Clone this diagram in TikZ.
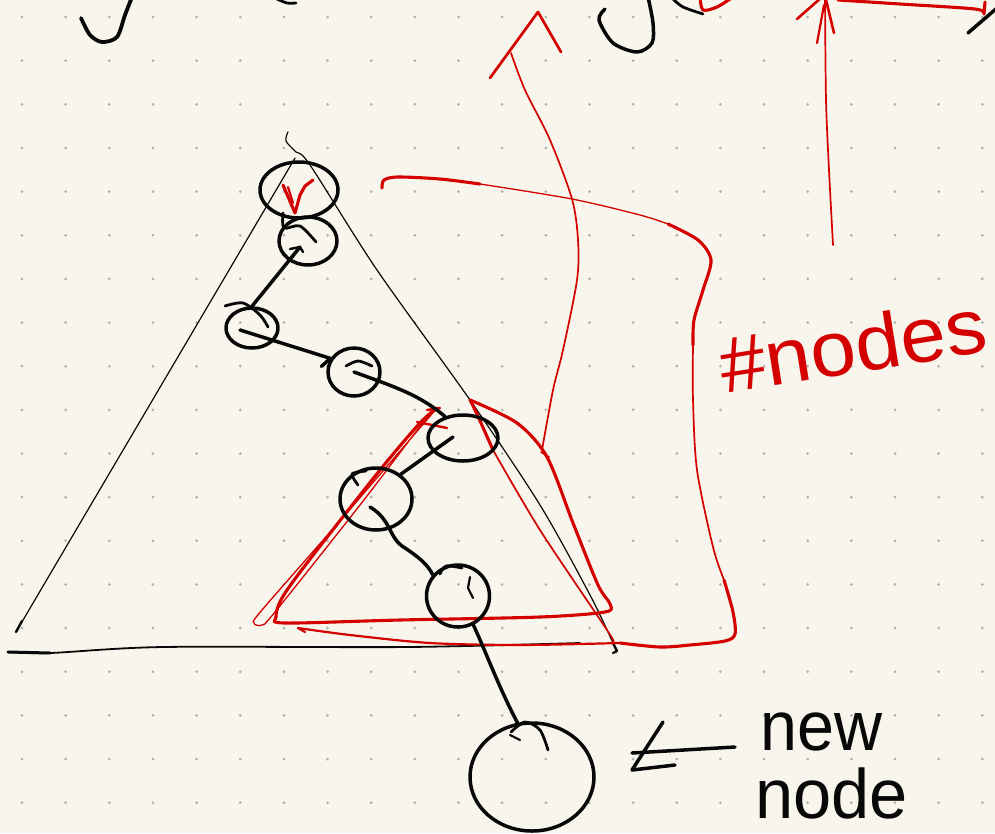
\documentclass[tikz,border=0pt]{standalone}
\usepackage{fontspec}
\setmainfont{Liberation Sans}
\usetikzlibrary{shapes.geometric}
\definecolor{paper}{RGB}{248,246,236}
\definecolor{dotc}{RGB}{176,176,168}
\definecolor{ink}{RGB}{8,8,8}
\definecolor{pen}{RGB}{212,0,0}
\begin{document}
\begin{tikzpicture}[x=1pt,y=-1pt,line cap=round,line join=round,
  blk/.style={draw=ink,line width=3.5pt},
  hair/.style={draw=ink,line width=1.2pt},
  tnode/.style={ellipse,draw=ink,line width=3.5pt,inner sep=0pt},
  rd/.style={draw=pen,line width=3.1pt},
  rdfine/.style={draw=pen,line width=1.3pt},
  hand/.style={inner sep=0pt,anchor=base west}]
\useasboundingbox (0,0) rectangle (995,833);
\fill[paper] (0,0) rectangle (995,833);
\clip (0,0) rectangle (995,833);
% dot grid
\foreach \i in {0,...,22}{\foreach \j in {0,...,18}{\fill[dotc] ({22+43.65*\i},{17+43.65*\j}) circle (1.5);}}
% cut-off strokes at the top
\draw[blk,line width=3.8pt] plot[smooth] coordinates {(81,18) (90,35) (102,42) (117,37) (125,15) (132,-3)};
\draw[blk,line width=2.8pt] plot[smooth] coordinates {(277,-1) (287,3) (296,3)};
\draw[blk] plot[smooth] coordinates {(605,9) (599,20) (613,43) (637,52) (652,43) (653,23) (648,-3)};
\draw[blk,line width=2.8pt] plot[smooth] coordinates {(673,-1) (683,7) (703,14)};
\draw[rd] plot[smooth] coordinates {(700,-3) (703,10) (717,7) (733,-3)};
\draw[rd] plot[smooth] coordinates {(838,0) (900,4) (975,9) (984,14)} -- (985,2);
\draw[blk] (968,33) -- (997,8);
% red arrow on the right
\draw[rdfine,line width=1.7pt] plot[smooth] coordinates {(833,245) (829,170) (826,100) (825,-2)};
\draw[rd,line width=2.6pt] (797,19) -- (822,-3);
\draw[rd,line width=2.6pt] (834,33) -- (826,0);
\draw[rd,line width=2.2pt] (817,43) -- (824,5);
% big black triangle
\draw[hair] (295,158) -- (16,632);
\draw[blk,line width=2.4pt] (22,621) -- (16,632);
\draw[hair] plot[smooth] coordinates {(288,132) (286,141) (296,152) (310,165) (377,270) (470,400) (540,505) (590,595) (613,643) (616,651)};
\draw[blk,line width=2.4pt] (613,643) -- (617,651) -- (613,653);
\draw[blk,line width=1.8pt] plot[smooth] coordinates {(8,652) (50,653) (163,647) (408,647) (580,643)};
\draw[blk,line width=3pt] (8,652) -- (50,653);
% red brace around the subtree
\draw[rd] plot[smooth] coordinates {(382,188) (384,180) (398,177) (440,179) (480,184)};
\draw[rdfine] plot[smooth] coordinates {(480,184) (572,199) (640,215) (668,224)};
\draw[rd] plot[smooth] coordinates {(668,224) (698,240) (711,260) (703,290) (694,320) (693,345)};
\draw[rdfine,line width=1.7pt] plot[smooth] coordinates {(693,345) (693,400) (697,470) (713,547) (724,580)};
\draw[rd] plot[smooth] coordinates {(724,580) (733,612) (735,634) (725,641) (690,645) (660,647) (620,643)};
\draw[rd,line width=2.2pt] plot[smooth] coordinates {(620,643) (520,645) (430,643) (350,635) (298,628)};
\draw[rd,line width=2.2pt] (298,628) -- (305,632);
% red subtree triangle
\draw[rd] plot[smooth] coordinates {(470,400) (517,423) (547,457) (573,523) (598,585) (610,604) (605,612) (540,617) (400,620) (285,623) (276,617) (282,598) (307,563) (380,470) (420,423) (437,408)};
\draw[rd] plot[smooth] coordinates {(470,400) (476,412) (493,450)};
\draw[rdfine,line width=1.7pt] plot[smooth] coordinates {(493,450) (540,530) (607,630) (613,641)};
\draw[rdfine] plot[smooth] coordinates {(437,408) (345,515) (262,610) (254,623) (262,625) (275,612) (360,505) (425,420) (435,411)};
\draw[rd,line width=2.4pt] (417,422) -- (447,428);
\draw[rd,line width=2.4pt] (427,410) -- (440,408);
% red arrow in the middle
\draw[rdfine,line width=1.7pt] plot[smooth] coordinates {(542,450) (553,390) (563,350) (577,280) (578,240) (572,199) (550,140) (525,90) (511,53)};
\draw[rd,line width=2.7pt] (490,78) -- (538,12) -- (561,52);
\draw[rdfine,line width=1.7pt] (541,452) -- (549,457);
% tree nodes
\node[tnode,minimum width=78pt,minimum height=56pt] (root) at (299,190) {};
\node[tnode,minimum width=58pt,minimum height=48pt] (n1) at (308,241) {};
\node[tnode,minimum width=52pt,minimum height=40pt] (n2) at (252,328) {};
\node[tnode,minimum width=52pt,minimum height=48pt] (n3) at (354,372) {};
\node[tnode,minimum width=70pt,minimum height=46pt] (n4) at (463,438) {};
\node[tnode,minimum width=72pt,minimum height=62pt] (n5) at (376,499) {};
\node[tnode,minimum width=63pt,minimum height=62pt] (n6) at (458,596) {};
\node[tnode,minimum width=124pt,minimum height=108pt] (newn) at (532,777) {};
% extra sketch loops on nodes
\draw[blk,line width=2.8pt] plot[smooth] coordinates {(283,213) (284,228) (300,226) (316,242)};
\draw[blk,line width=2.8pt] plot[smooth] coordinates {(225,306) (243,303) (260,315) (268,327)};
\draw[blk,line width=2.8pt] plot[smooth] coordinates {(346,366) (358,361) (372,366)};
\draw[blk,line width=2.8pt] plot[smooth] coordinates {(366,471) (352,474) (358,485)};
\draw[blk,line width=2.8pt] plot[smooth] coordinates {(440,574) (446,566) (462,568)};
\draw[blk,line width=2.2pt] (470,577) -- (468,588) -- (473,598);
\draw[blk,line width=2.8pt] plot[smooth] coordinates {(511,732) (525,722) (540,730) (548,750)};
\draw[blk,line width=2.2pt] (510,735) -- (520,740);
% red v at the root
\draw[rd] (283,185) -- (295,213) -- (300,195) -- (305,186) -- (313,180);
\draw[rd,line width=2.2pt] (288,187) -- (293,203);
% tree edges
\draw[blk] (n2.north) -- ([shift={(-8,6)}]n1.center);
\draw[blk,line width=2.4pt] ([shift={(-18,8)}]n1.center) -- ([shift={(-8,6)}]n1.center) -- ([shift={(-5,11)}]n1.center);
\draw[blk] ([shift={(-12,2)}]n2.center) -- (n3.150) -- ++(-9,8);
\draw[blk] (n3.center) .. controls (395,387) and (420,395) .. (n4.130);
\draw[blk] ([shift={(-10,-1)}]n4.center) -- (n5.45);
\draw[blk] ([shift={(-6,8)}]n5.center) .. controls (392,520) and (388,538) .. (405,548) .. controls (420,558) and (428,565) .. (n6.140);
\draw[blk] (n6.-62) .. controls (485,650) and (500,690) .. (newn.105);
% label for the new node
\coordinate (arrtip) at (632,753);
\draw[blk] (735,747) -- (arrtip);
\draw[blk] (663,722) -- (632,770) -- (675,765);
\node[hand,xscale=0.95,text=ink] (lnew) at (760,750) {\fontsize{70}{80}\selectfont new};
\node[hand,xscale=0.98,text=ink] (lnode) at (755,818) {\fontsize{70}{80}\selectfont node};
% #nodes label
\node[inner sep=0pt,rotate=9,xscale=1.05,text=pen] (lcount) at (853,345) {\fontsize{78}{90}\selectfont \#nodes};
\end{tikzpicture}
\end{document}
